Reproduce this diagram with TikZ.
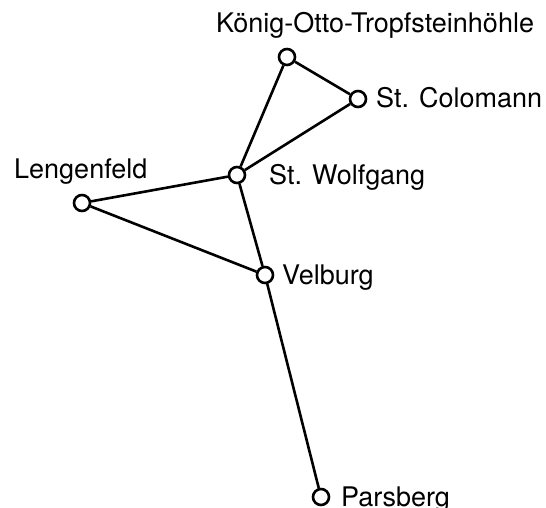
\documentclass[tikz,border=0pt]{standalone}
\usepackage{fontspec}
\setmainfont{TeX Gyre Heros}
\begin{document}
\begin{tikzpicture}[x=1pt,y=-1pt,
  stop/.style={circle,draw=black,fill=white,line width=2.6pt,minimum size=16pt,inner sep=0pt},
  lbl/.style={anchor=base west,inner sep=0pt,font=\fontsize{27}{31}\selectfont},
  link/.style={line width=2.6pt,black}]
\useasboundingbox (0,0) rectangle (546,508);
\node[stop] (h) at (287,57) {};
\node[stop] (c) at (358,99) {};
\node[stop] (w) at (237,175) {};
\node[stop] (l) at (82,203) {};
\node[stop] (v) at (265,275) {};
\node[stop] (p) at (321,497) {};
\draw[link] (h) -- (c);
\draw[link] (h) -- (w);
\draw[link] (c) -- (w);
\draw[link] (w) -- (l);
\draw[link] (l) -- (v);
\draw[link] (w) -- (v);
\draw[link] (v) -- (p);
\node[lbl] (hl) at (216,33) {König-Otto-Tropfsteinhöhle};
\node[lbl] (cl) at (376,108) {St. Colomann};
\node[lbl] (wl) at (269,184) {St. Wolfgang};
\node[lbl] (ll) at (14,178) {Lengenfeld};
\node[lbl] (vl) at (282,284) {Velburg};
\node[lbl] (pl) at (341,506) {Parsberg};
\end{tikzpicture}
\end{document}
